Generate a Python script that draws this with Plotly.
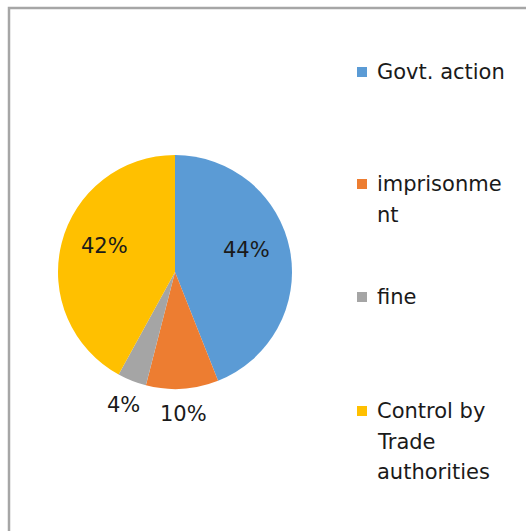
import math
import plotly.graph_objects as go

W, H = 526, 531

categories = ["Govt. action", "imprisonment", "fine", "Control by Trade authorities"]
legend_lines = [["Govt. action"], ["imprisonme", "nt"], ["fine"], ["Control by", "Trade", "authorities"]]
values = [44, 10, 4, 42]
colors = ["#5B9BD5", "#ED7D31", "#A5A5A5", "#FFC000"]
label_outside = [False, True, True, False]

FONT = "DejaVu Sans"
TXT = "#1A1A1A"

cx, cy, r = 175, 272, 117

def px_x(x):
    return x / W

def px_y(y):
    return 1 - y / H

fig = go.Figure()
fig.add_trace(go.Pie(
    labels=categories,
    values=values,
    marker=dict(colors=colors, line=dict(width=0)),
    sort=False,
    direction="clockwise",
    rotation=0,
    textinfo="none",
    showlegend=False,
    hoverinfo="label+percent",
    domain=dict(x=[px_x(cx - r), px_x(cx + r)], y=[px_y(cy + r), px_y(cy - r)]),
))

shapes = [dict(type="rect", xref="paper", yref="paper",
               x0=px_x(9), x1=px_x(W + 10), y0=px_y(H + 10), y1=px_y(8),
               line=dict(color="#A6A6A6", width=2.5), fillcolor="rgba(0,0,0,0)")]
annotations = []

# data labels placed along each slice's mid-angle
total = sum(values)
cum = 0
for v, outside in zip(values, label_outside):
    mid = (cum + v / 2) / total * 2 * math.pi
    cum += v
    f, dy = (1.2, 2) if outside else (0.62, -8)
    lx = cx + math.sin(mid) * r * f
    ly = cy - math.cos(mid) * r * f + dy
    annotations.append(dict(xref="paper", yref="paper", x=px_x(lx), y=px_y(ly),
                            xanchor="center", yanchor="middle", showarrow=False,
                            text=f"{round(v / total * 100)}%",
                            font=dict(family=FONT, size=21, color=TXT)))

legend_y = [72, 184, 297, 411]
line_gap = 30.5
for i, (lines, col) in enumerate(zip(legend_lines, colors)):
    y = legend_y[i]
    shapes.append(dict(type="rect", xref="paper", yref="paper",
                       x0=px_x(357), x1=px_x(367), y0=px_y(y + 5), y1=px_y(y - 5),
                       fillcolor=col, line=dict(width=0)))
    for k, line in enumerate(lines):
        annotations.append(dict(xref="paper", yref="paper", x=px_x(375), y=px_y(y + k * line_gap),
                                xanchor="left", yanchor="middle", align="left",
                                text=line, showarrow=False,
                                font=dict(family=FONT, size=21, color=TXT)))

fig.update_layout(
    width=W, height=H,
    margin=dict(l=0, r=0, t=0, b=0),
    paper_bgcolor="white", plot_bgcolor="white",
    shapes=shapes, annotations=annotations,
)

fig.write_html("out.html")
